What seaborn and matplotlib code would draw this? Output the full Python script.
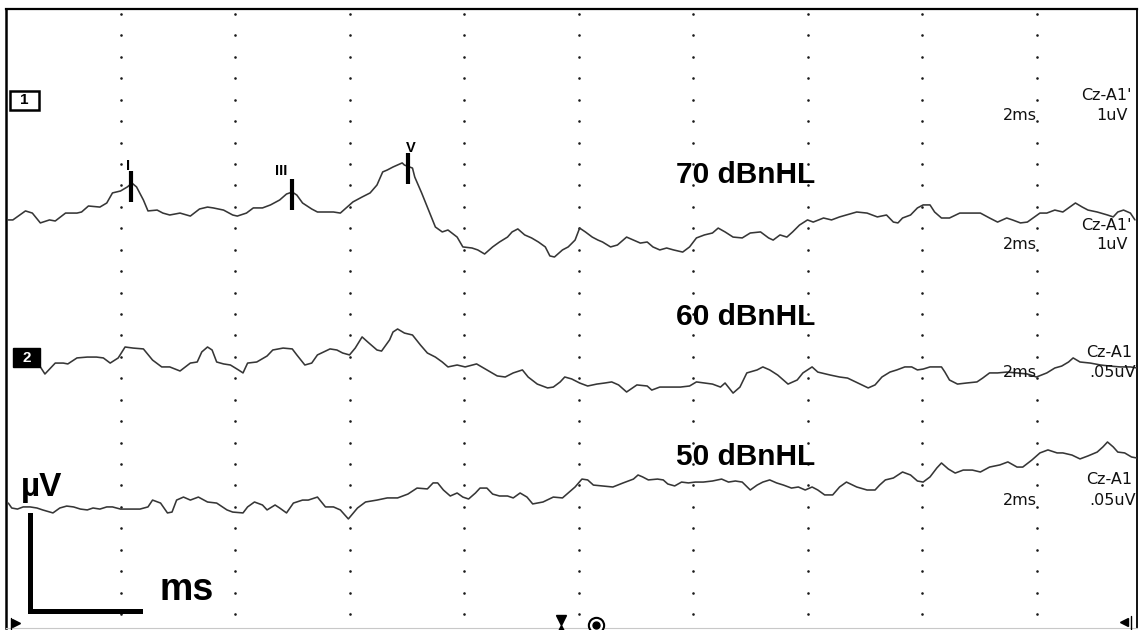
import numpy as np
import pandas as pd
import matplotlib
matplotlib.use("Agg")
import matplotlib.pyplot as plt
from matplotlib.patches import Rectangle
import seaborn as sns

# ---------------- data ----------------
levels = ["70 dBnHL", "60 dBnHL", "50 dBnHL"]
channel_no = ["1", "2"]
header_channels = ["Cz-A1'", "Cz-A1'", "Cz-A1", "Cz-A1"]
header_sens = ["1uV", "1uV", ".05uV", ".05uV"]
header_timebase = ["2ms", "2ms", "2ms", "2ms"]
peak_names = ["I", "III", "V"]
peak_latencies = [1.09, 2.50, 3.51]
grid_ms = [1, 2, 3, 4, 5, 6, 7, 8, 9]
scale_labels = ["\u00b5V", "ms"]

t70 = [0.02, 0.06, 0.17, 0.23, 0.30, 0.38, 0.43, 0.52, 0.62, 0.66,
       0.72, 0.82, 0.88, 0.93, 1.00, 1.06, 1.10, 1.14, 1.20, 1.24,
       1.32, 1.37, 1.43, 1.52, 1.61, 1.69, 1.76, 1.81, 1.90, 1.98,
       2.02, 2.10, 2.16, 2.24, 2.31, 2.39, 2.45, 2.50, 2.54, 2.59,
       2.67, 2.72, 2.86, 2.92, 2.98, 3.03, 3.11, 3.18, 3.24, 3.29,
       3.33, 3.38, 3.46, 3.48, 3.55, 3.57, 3.63, 3.69, 3.75, 3.81,
       3.86, 3.94, 3.99, 4.07, 4.12, 4.18, 4.25, 4.31, 4.38, 4.42,
       4.47, 4.53, 4.59, 4.65, 4.71, 4.75, 4.79, 4.86, 4.91, 4.97,
       5.01, 5.06, 5.12, 5.17, 5.21, 5.28, 5.34, 5.42, 5.48, 5.54,
       5.60, 5.65, 5.71, 5.77, 5.83, 5.91, 5.97, 6.03, 6.10, 6.17,
       6.22, 6.28, 6.35, 6.43, 6.50, 6.59, 6.66, 6.70, 6.76, 6.82,
       6.87, 6.93, 7.00, 7.05, 7.14, 7.21, 7.28, 7.34, 7.43, 7.52,
       7.61, 7.69, 7.75, 7.79, 7.83, 7.90, 7.96, 8.01, 8.07, 8.11,
       8.17, 8.24, 8.33, 8.42, 8.51, 8.59, 8.66, 8.74, 8.79, 8.86,
       8.92, 8.97, 9.03, 9.09, 9.16, 9.23, 9.29, 9.34, 9.40, 9.45,
       9.53, 9.62, 9.67, 9.71, 9.76, 9.82, 9.86]
a70 = [-0.23, -0.23, 0.19, 0.09, -0.37, -0.23, -0.28, 0.09, 0.09, 0.14,
       0.42, 0.37, 0.56, 1.03, 1.12, 1.31, 1.49, 1.31, 0.70, 0.19,
       0.23, 0.09, 0.00, 0.09, -0.05, 0.28, 0.37, 0.33, 0.23, 0.00,
       -0.05, 0.09, 0.33, 0.33, 0.47, 0.70, 0.98, 1.07, 0.93, 0.56,
       0.28, 0.14, 0.14, 0.09, 0.37, 0.61, 0.84, 1.03, 1.40, 2.01,
       2.10, 2.24, 2.43, 2.33, 2.19, 1.77, 1.03, 0.23, -0.56, -0.79,
       -0.70, -1.03, -1.49, -1.54, -1.63, -1.82, -1.49, -1.26, -1.03, -0.79,
       -0.65, -0.93, -1.07, -1.26, -1.49, -1.91, -1.96, -1.63, -1.49, -1.17,
       -0.61, -0.79, -1.03, -1.17, -1.26, -1.49, -1.40, -1.03, -1.17, -1.31,
       -1.26, -1.49, -1.63, -1.54, -1.63, -1.73, -1.49, -1.07, -0.93, -0.84,
       -0.61, -0.79, -1.03, -1.07, -0.84, -0.79, -1.07, -1.17, -0.93, -1.03,
       -0.79, -0.47, -0.23, -0.33, -0.14, -0.23, -0.09, 0.00, 0.14, 0.09,
       -0.09, 0.00, -0.33, -0.37, -0.14, 0.00, 0.33, 0.47, 0.47, 0.14,
       -0.14, -0.14, 0.09, 0.09, 0.09, -0.14, -0.33, -0.14, -0.23, -0.37,
       -0.33, -0.14, 0.09, 0.09, 0.23, 0.14, 0.37, 0.56, 0.37, 0.23,
       0.14, 0.00, -0.09, 0.14, 0.23, 0.09, -0.23]

t60 = [0.30, 0.34, 0.43, 0.50, 0.54, 0.62, 0.71, 0.79, 0.85, 0.91,
       0.98, 1.04, 1.11, 1.20, 1.28, 1.36, 1.43, 1.52, 1.61, 1.67,
       1.71, 1.76, 1.80, 1.84, 1.90, 1.96, 2.03, 2.07, 2.11, 2.19,
       2.28, 2.33, 2.42, 2.50, 2.54, 2.61, 2.67, 2.72, 2.83, 2.89,
       2.94, 3.00, 3.05, 3.11, 3.16, 3.24, 3.28, 3.35, 3.38, 3.42,
       3.48, 3.55, 3.62, 3.68, 3.75, 3.81, 3.86, 3.94, 4.01, 4.11,
       4.20, 4.29, 4.36, 4.43, 4.51, 4.56, 4.64, 4.73, 4.78, 4.84,
       4.88, 4.94, 5.01, 5.08, 5.16, 5.23, 5.29, 5.35, 5.42, 5.51,
       5.60, 5.64, 5.71, 5.80, 5.89, 5.97, 6.03, 6.10, 6.17, 6.24,
       6.28, 6.35, 6.41, 6.47, 6.56, 6.61, 6.67, 6.74, 6.83, 6.91,
       6.96, 7.04, 7.09, 7.20, 7.28, 7.35, 7.44, 7.53, 7.59, 7.65,
       7.72, 7.78, 7.85, 7.91, 7.96, 8.01, 8.07, 8.13, 8.17, 8.20,
       8.24, 8.31, 8.39, 8.48, 8.53, 8.59, 8.66, 8.74, 8.83, 8.92,
       9.00, 9.09, 9.16, 9.22, 9.28, 9.32, 9.38, 9.47, 9.56, 9.64,
       9.73, 9.82, 9.88]
a60 = [-0.23, -0.56, -0.05, -0.05, -0.09, 0.19, 0.23, 0.23, 0.19, -0.05,
       0.19, 0.70, 0.65, 0.61, 0.09, -0.23, -0.23, -0.42, -0.05, 0.00,
       0.47, 0.70, 0.56, 0.00, -0.09, -0.14, -0.37, -0.51, -0.05, 0.00,
       0.28, 0.56, 0.65, 0.61, 0.33, -0.14, -0.05, 0.33, 0.61, 0.56,
       0.42, 0.33, 0.65, 1.17, 0.93, 0.56, 0.51, 1.03, 1.40, 1.54,
       1.35, 1.26, 0.79, 0.42, 0.23, 0.00, -0.23, -0.14, -0.23, -0.09,
       -0.37, -0.65, -0.70, -0.51, -0.37, -0.70, -1.03, -1.21, -1.17, -0.93,
       -0.70, -0.79, -0.98, -1.12, -1.03, -0.98, -0.93, -1.07, -1.40, -1.07,
       -1.12, -1.31, -1.17, -1.17, -1.17, -1.12, -0.93, -0.98, -1.03, -1.17,
       -0.98, -1.45, -1.17, -0.51, -0.37, -0.23, -0.37, -0.61, -1.03, -0.84,
       -0.51, -0.23, -0.47, -0.61, -0.70, -0.75, -0.98, -1.21, -1.07, -0.70,
       -0.47, -0.37, -0.23, -0.23, -0.37, -0.33, -0.23, -0.23, -0.23, -0.47,
       -0.84, -1.03, -0.98, -0.93, -0.75, -0.51, -0.51, -0.47, -0.51, -0.56,
       -0.70, -0.51, -0.28, -0.19, 0.00, 0.19, 0.00, -0.05, -0.14, -0.19,
       -0.23, -0.23, -0.28]

t50 = [0.02, 0.05, 0.10, 0.15, 0.21, 0.27, 0.32, 0.41, 0.47, 0.53,
       0.59, 0.65, 0.71, 0.76, 0.82, 0.88, 0.93, 1.00, 1.08, 1.17,
       1.24, 1.28, 1.35, 1.41, 1.45, 1.49, 1.55, 1.61, 1.68, 1.76,
       1.84, 1.93, 1.98, 2.07, 2.11, 2.17, 2.24, 2.28, 2.35, 2.39,
       2.45, 2.51, 2.59, 2.64, 2.72, 2.79, 2.86, 2.92, 2.99, 3.07,
       3.14, 3.24, 3.33, 3.42, 3.51, 3.59, 3.68, 3.73, 3.77, 3.82,
       3.88, 3.94, 3.99, 4.04, 4.10, 4.14, 4.20, 4.25, 4.31, 4.38,
       4.43, 4.49, 4.55, 4.60, 4.69, 4.78, 4.86, 4.91, 4.97, 5.03,
       5.08, 5.13, 5.21, 5.30, 5.39, 5.48, 5.52, 5.56, 5.61, 5.69,
       5.74, 5.78, 5.84, 5.90, 5.96, 6.02, 6.09, 6.17, 6.25, 6.31,
       6.37, 6.43, 6.50, 6.56, 6.61, 6.67, 6.73, 6.79, 6.86, 6.92,
       6.98, 7.04, 7.09, 7.15, 7.22, 7.28, 7.34, 7.43, 7.52, 7.59,
       7.63, 7.68, 7.75, 7.83, 7.90, 7.96, 8.01, 8.07, 8.13, 8.17,
       8.23, 8.29, 8.36, 8.44, 8.51, 8.59, 8.68, 8.75, 8.83, 8.88,
       8.96, 9.03, 9.10, 9.18, 9.23, 9.31, 9.38, 9.45, 9.53, 9.58,
       9.62, 9.67, 9.71, 9.77, 9.83, 9.88]
a50 = [0.09, -0.14, -0.19, -0.09, -0.09, -0.14, -0.23, -0.37, -0.14, -0.05,
       -0.09, -0.19, -0.23, -0.14, -0.19, -0.09, -0.09, -0.19, -0.19, -0.19,
       -0.09, 0.23, 0.09, -0.37, -0.33, 0.23, 0.37, 0.23, 0.37, 0.14,
       0.09, -0.23, -0.33, -0.37, -0.09, 0.14, 0.00, -0.23, 0.00, -0.14,
       -0.37, 0.09, 0.23, 0.23, 0.37, -0.09, -0.09, -0.23, -0.65, -0.14,
       0.14, 0.23, 0.33, 0.33, 0.51, 0.79, 0.75, 1.03, 1.03, 0.70,
       0.42, 0.56, 0.37, 0.28, 0.56, 0.79, 0.79, 0.51, 0.42, 0.42,
       0.33, 0.56, 0.37, 0.05, 0.14, 0.37, 0.33, 0.56, 0.84, 1.21,
       1.17, 0.93, 0.89, 0.84, 1.03, 1.21, 1.40, 1.31, 1.17, 1.21,
       1.17, 0.98, 0.89, 1.07, 1.03, 1.07, 1.07, 1.12, 1.21, 1.07,
       1.12, 1.07, 0.70, 0.93, 1.07, 1.17, 1.03, 0.93, 0.79, 0.84,
       0.70, 0.84, 0.70, 0.47, 0.47, 0.84, 1.07, 0.84, 0.70, 0.70,
       0.93, 1.17, 1.26, 1.54, 1.40, 1.12, 1.07, 1.31, 1.73, 1.96,
       1.68, 1.49, 1.63, 1.63, 1.54, 1.77, 1.87, 2.01, 1.77, 1.77,
       2.10, 2.43, 2.57, 2.43, 2.43, 2.33, 2.15, 2.29, 2.47, 2.71,
       2.94, 2.71, 2.47, 2.43, 2.24, 2.19]

assert len(t70) == len(a70) and len(t60) == len(a60) and len(t50) == len(a50)

# ---------------- figure / layout ----------------
sns.set_style("white")
plt.rcParams["font.family"] = ["Liberation Sans", "DejaVu Sans"]

W, H = 1142, 630
fig = plt.figure(figsize=(W / 100, H / 100), dpi=100)
ax = fig.add_axes([6 / W, 2 / H, 1131.3 / W, 619 / H])
PX_MS, PX_DIV = 114.5, 21.43


def X(px):
    return (px - 6) / PX_MS


def Y(py):
    return (614 - py) / PX_DIV


ax.set_xlim(X(6), X(1137.3))
ax.set_ylim(Y(628), Y(9))
ax.set_xticks([])
ax.set_yticks([])

# dotted grid (one dot per division)
gx, gy = np.meshgrid(grid_ms, np.arange(0, 29))
ax.scatter(gx.ravel(), gy.ravel(), s=3.5, c="#1a1a1a", linewidths=0, zorder=1)

# traces
offsets = [Y(215), Y(362), Y(505)]
frames = []
for lev, t, a, off in zip(levels, [t70, t60, t50], [a70, a60, a50], offsets):
    frames.append(pd.DataFrame({"t": t, "y": np.array(a) + off, "level": lev}))
df = pd.concat(frames, ignore_index=True)
for lev in levels:
    sub = df[df["level"] == lev]
    sns.lineplot(data=sub, x="t", y="y", ax=ax, color="#363636", linewidth=1.15,
                 estimator=None, sort=False, legend=False, zorder=3)
ax.set_xlabel("")
ax.set_ylabel("")

# peak markers on the 70 dB trace
label_px = [(128, 166), (281, 171), (411, 148)]
for name, lat, (lx, ly) in zip(peak_names, peak_latencies, label_px):
    yc = np.interp(lat, t70, a70) + offsets[0] - 0.1
    ax.plot([lat, lat], [yc - 0.72, yc + 0.72], color="black", lw=3.0,
            solid_capstyle="butt", zorder=4)
    ax.text(X(lx), Y(ly), name, ha="center", va="center", fontsize=10.5,
            fontweight="bold", color="black", zorder=5)

# level labels
for lev, base in zip(levels, [183, 325, 465]):
    ax.text(X(676), Y(base), lev, ha="left", va="baseline", fontsize=21.5,
            fontweight="bold", color="black", zorder=5)

# right header labels
hdr_rows = [(100, 120), (230, 249), (357, 377), (484, 505)]
for ch, sens, tb, (y1, y2) in zip(header_channels, header_sens, header_timebase, hdr_rows):
    ax.text(X(1132), Y(y1), ch, ha="right", va="baseline", fontsize=11.5,
            family=["DejaVu Sans"], color="#111111", zorder=5)
    ax.text(X(1136 if sens.startswith(".") else 1128), Y(y2), sens, ha="right",
            va="baseline", fontsize=11.5, family=["DejaVu Sans"], color="#111111", zorder=5)
    ax.text(X(1037), Y(y2), tb, ha="right", va="baseline", fontsize=11.5,
            family=["DejaVu Sans"], color="#111111", zorder=5)

# channel boxes
ax.add_patch(Rectangle((X(10), Y(110)), X(39) - X(10), Y(91) - Y(110),
                       facecolor="white", edgecolor="black", lw=1.8, zorder=6))
ax.text(X(24.5), Y(100.5), channel_no[0], ha="center", va="center", fontsize=11,
        fontweight="bold", color="black", zorder=7)
ax.add_patch(Rectangle((X(13), Y(367)), X(40) - X(13), Y(348) - Y(367),
                       facecolor="black", edgecolor="black", lw=1.0, zorder=6))
ax.text(X(26.5), Y(357.5), channel_no[1], ha="center", va="center", fontsize=11,
        fontweight="bold", color="white", zorder=7)

# scale bar
ax.plot([X(29.5), X(29.5)], [Y(515), Y(610.5)], color="black", lw=3.6,
        solid_capstyle="projecting", zorder=5)
ax.plot([X(29.5), X(140)], [Y(610.5), Y(610.5)], color="black", lw=3.6,
        solid_capstyle="projecting", zorder=5)
ax.text(X(21), Y(496), scale_labels[0], ha="left", va="baseline", fontsize=24,
        fontweight="bold", color="black", zorder=5)
ax.text(X(160), Y(600), scale_labels[1], ha="left", va="baseline", fontsize=27,
        fontweight="bold", color="black", zorder=5)

# cursor icons along the bottom edge
ax.plot([X(16)], [Y(623)], marker=">", ms=6, color="black", clip_on=False, zorder=6)
ax.plot([X(11), X(11)], [Y(618), Y(629)], color="black", lw=1, clip_on=False, zorder=6)
ax.plot([X(1124)], [Y(622)], marker="<", ms=6, color="black", clip_on=False, zorder=6)
ax.plot([X(1131), X(1131)], [Y(616), Y(629)], color="black", lw=1, clip_on=False, zorder=6)
ax.plot([X(561)], [Y(620)], marker="v", ms=7, color="black", clip_on=False, zorder=6)
ax.plot([X(561)], [Y(628)], marker="^", ms=5, color="black", clip_on=False, zorder=6)
ax.plot([X(596)], [Y(625)], marker="o", ms=11, mfc="white", mec="black", mew=1.5,
        clip_on=False, zorder=6)
ax.plot([X(596)], [Y(625)], marker="o", ms=5, color="black", clip_on=False, zorder=7)

# frame
ax.spines["top"].set_color("black")
ax.spines["top"].set_linewidth(1.6)
ax.spines["left"].set_color("black")
ax.spines["left"].set_linewidth(1.8)
ax.spines["right"].set_color("black")
ax.spines["right"].set_linewidth(1.3)
ax.spines["bottom"].set_color("#c8c8c8")
ax.spines["bottom"].set_linewidth(0.8)

fig.savefig("out.png", dpi=100)
